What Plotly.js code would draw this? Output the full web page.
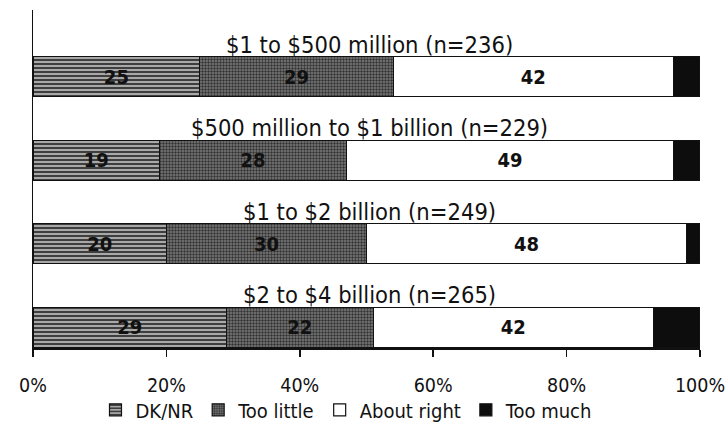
<!DOCTYPE html>
<html><head><meta charset="utf-8">
<script src="https://cdn.plot.ly/plotly-3.0.1.min.js"></script>
<style>html,body{margin:0;padding:0;background:#fff}</style>
</head><body><div id="chart" style="width:727px;height:431px"></div>
<script>
const categories = ["$1 to $500 million (n=236)", "$500 million to $1 billion (n=229)", "$1 to $2 billion (n=249)", "$2 to $4 billion (n=265)"];
const dkNr = [25, 19, 20, 29];
const tooLittle = [29, 28, 30, 22];
const aboutRight = [42, 49, 48, 42];
const tooMuch = [4, 4, 2, 7];
const tickVals = [0, 20, 40, 60, 80, 100];
const tickText = ["0%", "20%", "40%", "60%", "80%", "100%"];

const FONT = "DejaVu Sans Condensed, Liberation Sans Narrow, Arial Narrow, Liberation Sans, sans-serif";
const BOLD = "DejaVu Sans Condensed, Liberation Sans, Arial, sans-serif";

function seg(name, vals, color, pattern, showText) {
  return {
    type: "bar", orientation: "h", name: name,
    y: categories, x: vals, width: 0.48,
    marker: {color: color, line: {color: "#111", width: 1.2}, pattern: pattern},
    text: showText ? vals.map(String) : undefined,
    texttemplate: showText ? "<b>%{text}</b>" : undefined,
    textposition: showText ? "inside" : "none",
    insidetextanchor: "middle",
    textfont: {family: BOLD, size: 20, color: "#111"},
    hoverinfo: "skip"
  };
}

const data = [
  seg("DK/NR", dkNr, "#a0a0a0", {shape: "-", fgcolor: "#222", bgcolor: "#a8a8a8", size: 4, solidity: 0.4}, true),
  seg("Too little", tooLittle, "#666", {shape: ".", fgcolor: "#333", bgcolor: "#7c7c7c", size: 3, solidity: 0.5}, true),
  seg("About right", aboutRight, "#ffffff", undefined, true),
  seg("Too much", tooMuch, "#0d0d0d", undefined, false)
];

const annotations = categories.map(c => ({
  x: 50.5, y: c, xref: "x", yref: "y", yshift: 32,
  text: c, showarrow: false, xanchor: "center", yanchor: "middle",
  font: {family: FONT, size: 23.5, color: "#111"}
}));

const layout = {
  width: 727, height: 431,
  margin: {l: 33, r: 27, t: 10, b: 83, autoexpand: false},
  paper_bgcolor: "#ffffff", plot_bgcolor: "#ffffff",
  barmode: "stack",
  showlegend: true,
  legend: {orientation: "h", traceorder: "normal", x: 0.47, xanchor: "center", y: -0.183, yanchor: "middle",
           font: {family: FONT, size: 20, color: "#111"}, itemwidth: 30, tracegroupgap: 0,
           bgcolor: "rgba(0,0,0,0)"},
  xaxis: {range: [0, 100], tickvals: tickVals, ticktext: tickText, showgrid: false, zeroline: false,
          showline: true, linecolor: "#111", linewidth: 1.5, ticks: "outside", ticklen: 7,
          tickcolor: "#111", tickwidth: 1.5, ticklabelstandoff: 12,
          tickfont: {family: FONT, size: 19.5, color: "#111"}, fixedrange: true},
  yaxis: {type: "category", range: [3.25, -0.8], showticklabels: false, showgrid: false,
          zeroline: false, showline: true, linecolor: "#111", linewidth: 1.5, ticks: "", fixedrange: true},
  annotations: annotations
};

Plotly.newPlot("chart", data, layout, {displayModeBar: false, staticPlot: true});
</script></body></html>
